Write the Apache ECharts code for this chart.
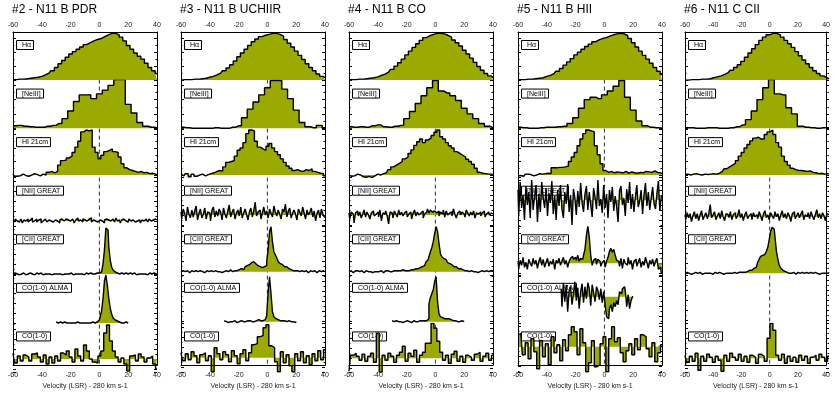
<!DOCTYPE html>
<html>
<head>
<meta charset="utf-8">
<script src="https://cdn.jsdelivr.net/npm/echarts@6/dist/echarts.min.js"></script>
<style>
  html, body { margin: 0; background: #fff; }
  #chart { width: 833px; height: 395px; }
</style>
</head>
<body>
<div id="chart"></div>
<script>
// channel grids [first velocity, channel width] in km/s
const chanHa = [-60, 2.5]
const chanNe = [-60, 4]
const chanHI = [-60, 2]
const chanGreat = [-60, 1]
const chanAlma = [-30, 1]
const chanCO = [-60, 2]

const panelTitles = ['#2 - N11 B PDR', '#3 - N11 B UCHIIR', '#4 - N11 B CO', '#5 - N11 B HII', '#6 - N11 C CII']
const rowLabels = ['Hα', '[NeIII]', 'HI 21cm', '[NII] GREAT', '[CII] GREAT', 'CO(1-0) ALMA', 'CO(1-0)']
const xTickStep = 20
const xName = 'Velocity (LSR) - 280 km s-1'

// --- #2 PDR
const haPDR = [1,1,2,2,3,4,5,6,8,11, 15,20,27,35,42,49,56,61,66,71, 76,80,84,87,89,93,97,100,100,97, 92,84,74,66,58,51,45,36,27,20, 14]
const neiiiPDR = [5,6,4,3,2,2,4,6,10,20, 36,56,70,70,62,72,80,90,102,102, 50,32,12,4,2,1]
const hiPDR = [2,-3,-2,2,-1,-3,0,3,1,-2, 2,0,6,8,5,8,22,32,33,38, 42,50,62,75,96,100,98,100,62,50, 36,44,52,55,58,52,50,40,25,16, 12,10,8,6,8,5,6,3,4,2, 0]
const niiPDR = [1,-1,2,0,-1,1,2,-2,1,0,2,-1,1,3,-1,0,2,-1,1,2,
  -2,0,2,1,-1,1,0,2,-1,1,3,0,-2,1,2,0,-1,2,1,-1,
  0,2,1,-2,1,3,0,1,-1,2,1,0,-1,2,3,-1,1,0,2,-1,
  1,2,0,-2,1,2,1,-1,0,2,1,-1,3,0,1,-2,1,2,0,1,
  -1,2,0,1,3,-1,0,2,1,-2,1,0,2,1,-1,2,0,1,-1,2, 1]
const ciiPDR = [0,1,0,0,-1,1,0,1,0,-1,0,1,1,0,0,-1,1,0,0,1,
  0,-1,0,1,0,0,1,-1,0,1,0,0,1,0,-1,1,0,0,1,0,
  1,0,-1,0,1,0,0,1,0,-1,0,1,0,0,1,0,1,0,1,1,
  1,2,4,10,24,46,44,28,14,7,4,2,1,1,0,1,0,0,1,-1,
  0,1,0,0,1,0,-1,0,1,0,0,1,0,-1,0,1,0,0,1,0, 0]
const almaPDR = [1,0,1,1,0,0,1,0,1,0,0,1,0,0,1,1,0,1,0,0, 1,0,0,1,0,1,1,0,1,2,
  3,6,12,24,42,48,38,25,15,9,5,3,2,1,1,0,1,0,1,0,0]
const coPDR = [6,-4,3,-2,4,2,-2,5,6,2, -3,4,-5,2,-4,3,-2,6,4,8, 2,-3,10,3,-2,14,8,0,-3,-4, 3,8,26,34,18,8,2,-3,1,-5, -12,3,4,-2,5,2,-3,1,3,-5, -10]

// --- #3 UCHIIR
const haUCH = [0,1,1,1,2,2,3,4,6,8, 11,15,20,26,33,41,50,58,66,74, 82,88,93,96,98,100,100,98,94,87, 79,71,62,53,44,35,27,20,13,8, 5]
const neiiiUCH = [2,1,0,0,0,0,1,0,0,2, 5,22,40,55,70,85,100,100,82,62, 38,12,3,1,6,1]
const hiUCH = [2,-2,3,-4,2,-3,0,2,-2,1, 3,5,8,10,9,18,28,30,32,42, 55,60,72,92,100,98,75,62,58,55, 64,70,60,52,45,36,28,20,15,10, 12,9,8,12,10,14,8,6,4,3, -2]
const niiUCH = [3,-4,6,2,-6,8,1,-3,5,-2, 4,9,-5,2,6,-3,1,7,-4,3, 2,-6,5,8,-2,4,-1,6,3,-5, 7,1,-3,4,10,-2,3,6,-4,2,
  5,-1,8,-3,2,6,1,-5,3,7, -2,4,13,-1,3,5,-4,2,8,0, 4,-3,6,2,-2,9,3,-1,5,1, -4,6,3,11,-2,4,7,-3,2,5,
  1,-5,6,3,-1,8,2,-4,5,0, 3,7,-2,4,-6,2,5,-3,6,1, -2]
const ciiUCH = [0,1,-1,0,1,0,-1,1,0,0, 1,-1,0,1,0,0,-1,1,1,0, 0,1,0,-1,1,0,1,0,-1,1, 0,1,1,0,2,1,0,1,2,1,
  2,1,3,2,4,5,6,7,8,9, 10,9,8,6,5,5,4,4,5,6,
  10,22,40,45,30,20,17,14,10,8, 7,6,5,5,4,3,2,2,1,1, 0,1,0,-1,1,0,0,1,-1,0, 1,0,0,1,-1,0,1,0,0,1, 0]
const almaUCH = [1,0,1,-1,0,1,0,1,0,-1, 0,1,1,0,-1,0,1,0,1,0, 1,0,1,1,2,1,2,1,2,3,
  6,30,45,28,10,5,3,2,2,1, 1,0,1,0,-1,1,0,1,0,-1, 0]
const coUCH = [5,-3,4,-2,6,2,-5,3,5,-3, 2,-14,10,4,-2,6,3,-4,7,2, -6,4,8,-3,5,13,14,21,22,30, 33,12,10,-4,-14,6,-5,3,-8,-14, 4,-3,6,-5,2,-7,4,-3,7,-2, 8]

// --- #4 CO
const haCO = [1,1,1,2,2,3,4,5,7,10, 13,17,23,30,37,45,54,62,70,78, 85,91,95,98,100,100,99,96,92,86, 80,73,64,56,47,38,29,21,14,9, 5]
const neiiiCO = [3,2,3,2,5,7,3,2,4,6, 20,35,52,68,85,100,78,74,68,58, 42,30,20,10,4,1]
const hiCO = [0,-3,-2,2,0,-4,-5,-3,-6,-2, 2,0,3,5,12,18,22,26,30,36, 40,48,56,66,74,80,72,78,82,88, 95,100,85,80,72,65,60,52,48,44, 40,35,30,24,15,6,4,3,2,2, 0]
const niiCO = [2,-4,3,1,-8,2,4,-1,3,-3, 1,5,-2,3,0,-4,2,4,-1,1, 3,-2,5,-6,2,1,4,-1,-9,3, 2,-3,4,1,-2,5,0,3,-1,2,
  4,-2,1,3,-4,2,5,-1,3,0, 2,4,-3,1,3,6,2,5,3,4, 6,2,4,-1,3,1,5,-2,4,0, 2,3,-1,6,1,-3,2,4,0,3,
  1,-2,5,2,-1,3,0,4,-3,2, 1,3,-1,2,4,-2,1,3,0,2, 1]
const ciiCO = [0,1,0,-1,1,0,1,0,0,1, -1,0,1,0,1,0,-1,1,0,0, 1,0,1,0,-1,1,0,1,0,1, 0,1,0,1,1,0,1,2,1,1,
  1,2,1,2,1,2,3,2,3,4, 4,5,6,8,10,12,15,20,24,30,
  38,45,40,28,18,15,13,12,10,9, 8,7,6,5,5,4,3,3,2,2, 1,2,1,0,1,1,0,1,0,-1, 1,0,1,0,0,1,-1,0,1,0, 1]
const almaCO = [1,0,-1,1,0,1,0,-1,1,0, 1,1,0,-1,0,1,0,1,0,1, 0,1,1,2,1,3,18,24,28,32,
  40,45,20,8,5,4,3,4,3,3, 2,2,1,2,1,0,1,0,1,-1, 0]
const coCO = [-13,3,5,2,-2,4,-3,2,5,-4, 25,-14,3,-2,5,2,-4,3,6,12, -3,5,2,8,-4,3,6,15,15,35, 30,17,6,-2,3,-5,4,7,-3,2, -4,3,1,-2,4,6,-3,2,5,-2, 3]

// --- #5 HII
const haHII = [1,1,1,2,2,3,4,5,8,10, 14,19,25,32,39,46,54,60,66,72, 77,82,86,89,91,94,97,99,100,99, 95,89,80,71,62,53,45,36,27,19, 12]
const neiiiHII = [2,1,0,0,1,2,2,3,4,10, 22,42,60,65,62,70,78,88,100,65, 38,15,5,2,1,0]
const hiHII = [-2,-1,-3,2,1,-2,0,3,2,3, 4,3,16,16,17,17,18,20,30,40, 50,65,80,92,100,98,96,65,45,25, 10,6,8,5,7,6,5,8,4,7, 5,4,6,5,8,7,6,9,6,5, 3]
const niiHII = [10,-15,18,-8,5,-20,14,-5,8,-18, 20,-10,3,15,-22,6,-12,18,2,-8, 12,-16,7,-3,19,-14,4,-20,10,-6, 15,-9,-18,8,-4,16,-12,5,-25,11,
  2,-15,9,-7,17,-3,-12,6,14,-10, 8,-5,-17,12,3,-9,20,-6,1,-13, 15,-8,6,-18,10,-2,13,-11,4,-7, -22,9,14,-5,2,-16,11,-3,18,-9,
  6,-12,3,15,-7,-1,10,-14,5,17, -6,8,-10,2,13,-4,-9,7,19,-11, 4]
const ciiHII = [2,-5,3,-2,6,-4,1,-6,4,0, -3,5,-1,3,-5,2,6,-2,4,-4, 1,5,-3,2,-1,4,-6,3,0,5, -2,2,6,-1,3,-4,2,5,7,4,
  6,3,8,2,5,4,8,14,28,37, 26,8,-2,3,5,-1,4,2,-3,1,
  3,-4,2,6,12,15,11,14,8,3, 2,-3,5,-5,4,0,-2,6,-1,3, -6,2,4,-3,1,5,-4,2,-2,6, 1,-5,3,-1,4,-3,2,5,-6,-4, -10]
const almaHII = [8,-10,14,-5,12,-15,6,10,-8,3, 15,-4,9,-12,5,13,-6,10,-2,14, 8,-9,12,4,-5,10,6,-3,8,-6,
  5,-8,-20,-22,-12,-8,-15,-6,-10,-4, -8,5,3,8,10,6,-10,2,-12,-4, 0]
const coHII = [12,13,-8,4,-12,8,-5,-22,6,-10, 3,-18,10,-6,2,-14,7,-4,12,20, 15,-8,18,4,-25,-16,6,-20,-18,3, 10,-25,8,20,5,9,-6,-15,-4,3, -8,8,-3,12,10,-2,-10,4,-15,-6, 2]

// --- #6 N11 C CII (no ALMA spectrum)
const haCII = [0,0,1,1,1,2,2,3,5,7, 9,12,16,21,27,33,40,49,58,67, 76,85,92,97,100,100,97,92,85,78, 70,61,52,43,35,27,20,14,9,5, 3]
const neiiiCII = [1,1,0,0,1,1,0,0,1,3, 7,18,36,60,85,102,72,70,43,30, 4,2,1,0,1,1]
const hiCII = [1,2,0,2,3,1,0,2,1,2, 3,2,4,8,14,18,22,26,32,42, 50,60,68,76,82,84,80,80,90,96, 100,90,72,62,42,30,22,15,12,10, 10,9,8,9,6,5,3,4,2,3, 2]
const niiCII = [2,-3,4,-1,3,-5,1,5,-2,3, -4,2,6,-3,1,4,-2,3,12,-1, 2,5,-3,1,4,-2,6,0,-4,3, 2,-1,5,-3,2,4,-2,1,7,-1,
  3,-4,2,5,-2,1,3,-3,4,0, 2,-2,5,1,-4,3,6,-1,2,-3, 4,1,-2,5,0,3,-4,2,6,-1, 3,-2,4,1,-5,3,5,-2,1,4,
  -1,3,6,-3,2,0,4,-2,5,1, -3,2,7,-1,3,-2,4,1,-4,3, 2]
const ciiCII = [0,1,0,0,-1,1,0,1,0,0, 1,0,-1,0,1,0,0,1,0,-1, 0,1,0,0,1,0,1,-1,0,1, 0,0,1,0,1,1,0,1,1,1,
  1,2,1,2,2,3,3,4,5,6, 8,11,14,17,18,19,20,22,26,34,
  42,46,44,36,22,14,8,5,3,2, 1,1,0,1,0,1,0,-1,1,0, 0,1,0,0,1,-1,0,1,0,0, 1,0,0,-1,1,0,0,1,0,0, 1]
const coCII = [3,-4,2,-3,5,-12,2,-3,4,1, -4,2,-2,-13,3,-3,5,1,-2,4, -3,2,-4,3,1,-5,4,2,-3,20, 35,28,3,-2,4,-5,2,-3,1,-4, 3,-2,2,-5,1,3,-2,4,1,-3, 2]

const spectra = [
  [haPDR, neiiiPDR, hiPDR, niiPDR, ciiPDR, almaPDR, coPDR],
  [haUCH, neiiiUCH, hiUCH, niiUCH, ciiUCH, almaUCH, coUCH],
  [haCO, neiiiCO, hiCO, niiCO, ciiCO, almaCO, coCO],
  [haHII, neiiiHII, hiHII, niiHII, ciiHII, almaHII, coHII],
  [haCII, neiiiCII, hiCII, niiCII, ciiCII, null, coCII]
]
const chans = [chanHa, chanNe, chanHI, chanGreat, chanGreat, chanAlma, chanCO]

// layout
const FONT = '"Liberation Sans", Arial, sans-serif'
const FILL = '#9aaa00'
const colLeft = [13, 181, 349, 518, 685]
const colW = 144
const top0 = 32
const plotH = 340
const rowH = plotH / 7
// y ranges of the three top rows (normalised profiles)
const topRanges = [[-1, 103], [-2, 100], [-6, 102]]
// pixel row of the zero level for the lower four rows
const baselines = [
  [221, 274, 323, 359],
  [215, 271.7, 321.7, 357.7],
  [215, 271.7, 321.7, 358.3],
  [200, 263.3, 296.7, 346.7],
  [216.7, 273.3, 300, 358.3]
]

const grid = [], xAxis = [], yAxis = [], series = [], title = []
const black = { color: '#000', width: 1 }

panelTitles.forEach((t, c) => {
  const left = colLeft[c]
  title.push({ text: t, left: left - 1, top: 4, padding: 0,
    textStyle: { fontSize: 12, fontWeight: 'normal', color: '#000', fontFamily: FONT } })

  // frame of the column, carries the velocity axes
  const g = grid.length
  grid.push({ left: left, top: top0, width: colW, height: plotH })
  const xf = xAxis.length
  ;['top', 'bottom'].forEach(pos => {
    xAxis.push({
      gridIndex: g, type: 'value', position: pos, min: -60, max: 40, interval: xTickStep,
      axisLine: { show: true, onZero: false, lineStyle: black },
      axisTick: { show: false },
      axisLabel: { fontSize: 7, color: '#222', margin: pos === 'top' ? 3 : 6, fontFamily: FONT },
      splitLine: { show: false },
      name: pos === 'bottom' ? xName : '', nameLocation: 'middle', nameGap: 16,
      nameTextStyle: { fontSize: 7, color: '#222', fontFamily: FONT },
      z: 10
    })
  })
  const yf = yAxis.length
  ;['left', 'right'].forEach(pos => {
    yAxis.push({ gridIndex: g, type: 'value', position: pos, min: 0, max: 7,
      axisLine: { show: true, onZero: false, lineStyle: black },
      axisTick: { show: false }, axisLabel: { show: false }, splitLine: { show: false }, z: 10 })
  })
  // dashed line at v = 0 from the [NeIII] row down, drawn under the spectra
  series.push({ type: 'line', xAxisIndex: xf, yAxisIndex: yf, z: 1, silent: true, symbol: 'none',
    data: [[0, 6], [0, 0]],
    lineStyle: { color: '#333', width: 1, type: [4, 3] } })

  rowLabels.forEach((lab, r) => {
    const rt = top0 + r * rowH
    const rg = grid.length
    grid.push({ left: left, top: rt, width: colW, height: rowH })
    const xi = xAxis.length
    xAxis.push({ gridIndex: rg, type: 'value', min: -60, max: 40, show: false })
    let range
    if (r < 3) range = topRanges[r]
    else {
      const b = baselines[c][r - 3]
      range = [-(rt + rowH - b), b - rt]
    }
    const yi = yAxis.length
    ;['left', 'right'].forEach(pos => {
      yAxis.push({ gridIndex: rg, type: 'value', position: pos, min: range[0], max: range[1], splitNumber: 4,
        axisLine: { show: false, onZero: false },
        axisTick: { show: true, inside: true, length: 3, lineStyle: black },
        minorTick: { show: true, splitNumber: 2, length: 1.5, lineStyle: black },
        axisLabel: { show: false }, splitLine: { show: false } })
    })
    const vals = spectra[c][r]
    if (!vals) return
    const ch = chans[r]
    series.push({
      type: 'line', xAxisIndex: xi, yAxisIndex: yi, step: 'middle', symbol: 'none', z: 6,
      clip: true, silent: true,
      data: vals.map((y, i) => [ch[0] + i * ch[1], y]),
      lineStyle: { color: '#000', width: 1.4 },
      areaStyle: { color: FILL, opacity: 1, origin: 'auto' }
    })
    title.push({ text: lab, left: left + 3, top: rt + 8, padding: [1, 3, 1, 6],
      borderColor: '#000', borderWidth: 1, backgroundColor: '#fff', z: 1,
      textStyle: { fontSize: 7, fontWeight: 'normal', color: '#000', fontFamily: FONT, lineHeight: 8 } })
  })
})

const chart = echarts.init(document.getElementById('chart'), null, { renderer: 'canvas' })
chart.setOption({ animation: false, backgroundColor: '#fff', title, grid, xAxis, yAxis, series })
</script>
</body>
</html>
